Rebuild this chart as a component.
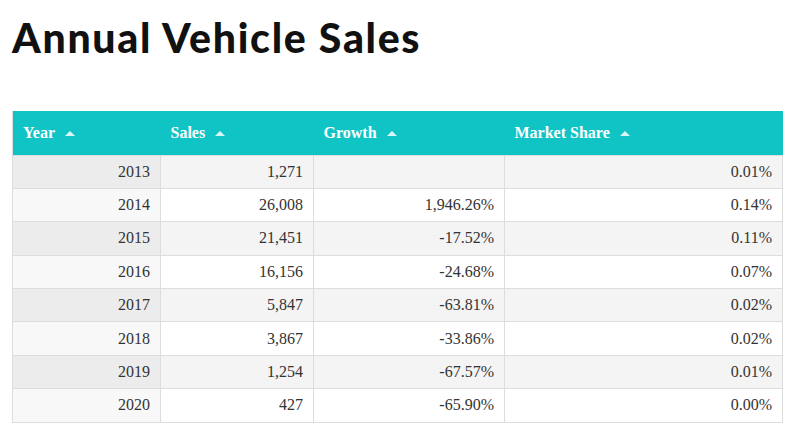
import React from 'react'

// Table data
const years = ['2013', '2014', '2015', '2016', '2017', '2018', '2019', '2020']
const sales = ['1,271', '26,008', '21,451', '16,156', '5,847', '3,867', '1,254', '427']
const growth = ['', '1,946.26%', '-17.52%', '-24.68%', '-63.81%', '-33.86%', '-67.57%', '-65.90%']
const marketShare = ['0.01%', '0.14%', '0.11%', '0.07%', '0.02%', '0.02%', '0.01%', '0.00%']
const headers = ['Year', 'Sales', 'Growth', 'Market Share']
const colWidths = [148, 153, 191, 278]

const Arrow = () => (
  <svg width={10} height={6} style={{ marginLeft: 10, verticalAlign: 2 }}>
    <polygon points="0,6 5,1 10,6" fill="#d8f6f6" />
  </svg>
)

export default function App() {
  const cellBase: React.CSSProperties = {
    borderRight: '1px solid #dddddd',
    borderTop: '1px solid #dddddd',
    textAlign: 'right',
    padding: '0 10px',
    height: 33.4,
    boxSizing: 'border-box',
    color: '#333333',
    fontFamily: '"Liberation Serif", "DejaVu Serif", serif',
    fontSize: 16,
  }

  return (
    <div
      style={{
        width: 787,
        height: 435,
        padding: '8px 0 0 12px',
        boxSizing: 'border-box',
        overflow: 'hidden',
      }}
    >
      <style>{'html, body { overflow: hidden; margin: 0; }'}</style>
      <div
        style={{
          fontFamily: 'Lato, "Open Sans", sans-serif',
          fontWeight: 900,
          fontSize: 41,
          color: '#111111',
          lineHeight: '40px',
          marginTop: 10,
          letterSpacing: 1.7,
        }}
      >
        Annual Vehicle Sales
      </div>
      <table
        style={{
          marginTop: 53,
          borderCollapse: 'collapse',
          tableLayout: 'fixed',
          width: 770,
          borderLeft: '1px solid #dddddd',
          borderBottom: '1px solid #dddddd',
        }}
      >
        <colgroup>
          {colWidths.map((w, i) => (
            <col key={i} style={{ width: w }} />
          ))}
        </colgroup>
        <thead>
          <tr style={{ background: '#10c4c6', height: 44 }}>
            {headers.map((h) => (
              <th
                key={h}
                style={{
                  textAlign: 'left',
                  padding: '0 10px',
                  color: '#ffffff',
                  fontFamily: '"Liberation Serif", "DejaVu Serif", serif',
                  fontSize: 16,
                  fontWeight: 700,
                }}
              >
                {h}
                <Arrow />
              </th>
            ))}
          </tr>
        </thead>
        <tbody>
          {years.map((y, i) => {
            const odd = i % 2 === 0
            const bg = odd ? '#f4f4f4' : '#ffffff'
            const firstBg = odd ? '#ececec' : '#f8f8f8'
            return (
              <tr key={y}>
                <td style={{ ...cellBase, background: firstBg }}>{y}</td>
                <td style={{ ...cellBase, background: bg }}>{sales[i]}</td>
                <td style={{ ...cellBase, background: bg }}>{growth[i]}</td>
                <td style={{ ...cellBase, background: bg }}>{marketShare[i]}</td>
              </tr>
            )
          })}
        </tbody>
      </table>
    </div>
  )
}
